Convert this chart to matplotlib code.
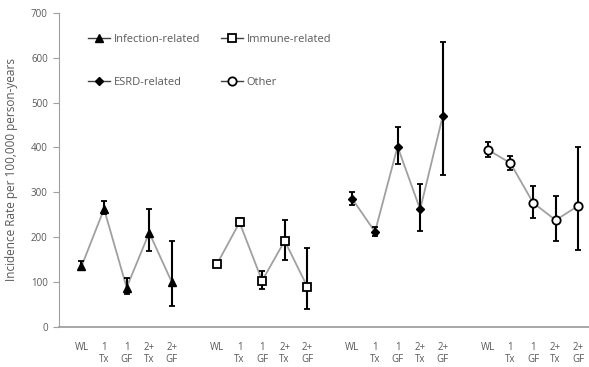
import numpy as np
import matplotlib

matplotlib.use("Agg")
import matplotlib.pyplot as plt
from matplotlib.lines import Line2D

plt.rcParams["font.family"] = ["Open Sans", "DejaVu Sans"]

# categories within each group
tick_labels = ["WL", "1\nTx", "1\nGF", "2+\nTx", "2+\nGF"]

series_names = ["Infection-related", "Immune-related", "ESRD-related", "Other"]

# incidence rate per 100,000 person-years, with lower / upper CI
infection_rate = [135, 263, 88, 210, 100]
infection_low = [128, 252, 73, 170, 47]
infection_high = [147, 280, 110, 263, 192]

immune_rate = [140, 233, 103, 192, 90]
immune_low = [133, 225, 85, 150, 40]
immune_high = [147, 242, 125, 238, 177]

esrd_rate = [285, 212, 402, 262, 470]
esrd_low = [272, 203, 364, 213, 339]
esrd_high = [300, 222, 446, 318, 635]

other_rate = [395, 365, 277, 238, 270]
other_low = [379, 350, 243, 192, 172]
other_high = [413, 382, 314, 292, 402]

series = [
    (infection_rate, infection_low, infection_high),
    (immune_rate, immune_low, immune_high),
    (esrd_rate, esrd_low, esrd_high),
    (other_rate, other_low, other_high),
]

marker_styles = [
    dict(marker="^", markersize=6, markerfacecolor="black"),
    dict(marker="s", markersize=5.5, markerfacecolor="white", markeredgewidth=1.3),
    dict(marker="D", markersize=4.5, markerfacecolor="black"),
    dict(marker="o", markersize=6, markerfacecolor="white", markeredgewidth=1.3),
]

text_color = "#595959"
line_gray = "#a0a0a0"

fig = plt.figure(figsize=(5.89, 3.67), dpi=100)
ax = fig.add_axes([0.100, 0.109, 0.92, 0.856])

xticks = []
xlabels = []
handles = []
for g, (rate, low, high) in enumerate(series):
    x = np.arange(len(rate)) + g * 6
    rate = np.array(rate)
    yerr = [rate - np.array(low), np.array(high) - rate]
    ax.errorbar(x, rate, yerr=yerr, fmt="none", ecolor="black",
                elinewidth=1.5, capsize=2.5, capthick=1.3, zorder=2)
    ax.plot(x, rate, color=line_gray, linewidth=1.3, zorder=1)
    ax.plot(x, rate, linestyle="none", markeredgecolor="black",
            zorder=3, **marker_styles[g])
    handles.append(Line2D([], [], color="#404040", linewidth=1.0,
                          markeredgecolor="black", **marker_styles[g]))
    xticks.extend(x)
    xlabels.extend(tick_labels)

ax.set_xlim(-1, 23)
ax.set_ylim(0, 700)
ax.set_yticks(range(0, 701, 100))
ax.set_xticks(xticks)
ax.set_xticklabels(xlabels, fontsize=7, color=text_color, linespacing=1.05,
                   va="top")
ax.tick_params(axis="x", length=0, pad=11)
ax.tick_params(axis="y", labelsize=7, colors=text_color, length=4,
               color=line_gray, pad=4)
for lbl in ax.get_yticklabels():
    lbl.set_color(text_color)

ax.spines["top"].set_visible(False)
ax.spines["right"].set_visible(False)
ax.spines["left"].set_color(line_gray)
ax.spines["bottom"].set_color(line_gray)
ax.spines["bottom"].set_linewidth(1.3)

ax.set_ylabel("Incidence Rate per 100,000 person-years", fontsize=8.5,
              color=text_color, labelpad=9)

# legend fills column-wise: reorder so rows read Infection/Immune, ESRD/Other
order = [0, 2, 1, 3]
ax.legend([handles[i] for i in order], [series_names[i] for i in order],
          ncol=2, frameon=False, fontsize=8, labelcolor=text_color,
          loc="upper left", bbox_to_anchor=(0.035, 0.965), labelspacing=2.9,
          columnspacing=1.9, handlelength=2.0, handletextpad=0.3)

plt.savefig("out.png", dpi=100)
